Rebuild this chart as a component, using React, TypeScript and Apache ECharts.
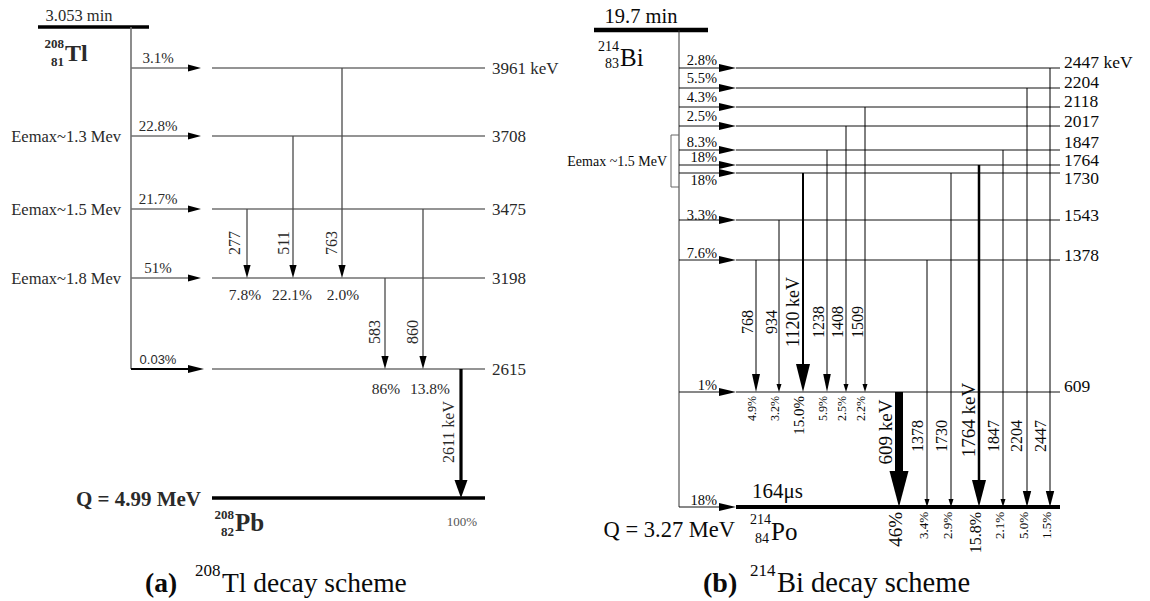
import React, { useEffect, useRef } from 'react';
import * as echarts from 'echarts';

// ===================== (a) 208Tl decay scheme — data =====================
const tlLevelKeV = [3961, 3708, 3475, 3198, 2615, 0];
const tlLevelLabel = ['3961 keV', '3708', '3475', '3198', '2615', ''];
const tlBetaTo = [3961, 3708, 3475, 3198, 2615];
const tlBetaIntensity = ['3.1%', '22.8%', '21.7%', '51%', '0.03%'];
const tlBetaEndpoint = ['', 'Eemax~1.3 Mev', 'Eemax~1.5 Mev', 'Eemax~1.8 Mev', ''];
const tlGammaLabel = ['277', '511', '763', '583', '860', '2611 keV'];
const tlGammaFrom = [3475, 3708, 3961, 3198, 3475, 2615];
const tlGammaTo = [3198, 3198, 3198, 2615, 2615, 0];
const tlGammaIntensity = ['7.8%', '22.1%', '2.0%', '86%', '13.8%', '100%'];
const tlHalfLife = '3.053 min';
const tlQ = 'Q = 4.99 MeV';

// ===================== (b) 214Bi decay scheme — data =====================
const biLevelKeV = [2447, 2204, 2118, 2017, 1847, 1764, 1730, 1543, 1378, 609, 0];
const biLevelLabel = ['2447 keV', '2204', '2118', '2017', '1847', '1764', '1730', '1543', '1378', '609', ''];
const biBetaIntensity = ['2.8%', '5.5%', '4.3%', '2.5%', '8.3%', '18%', '18%', '3.3%', '7.6%', '1%', '18%'];
const biGammaLabel = ['768', '934', '1120 keV', '1238', '1408', '1509', '609 keV', '1378', '1730', '1764 keV', '1847', '2204', '2447'];
const biGammaFrom = [1378, 1543, 1730, 1847, 2017, 2118, 609, 1378, 1730, 1764, 1847, 2204, 2447];
const biGammaTo = [609, 609, 609, 609, 609, 609, 0, 0, 0, 0, 0, 0, 0];
const biGammaIntensity = ['4.9%', '3.2%', '15.0%', '5.9%', '2.5%', '2.2%', '46%', '3.4%', '2.9%', '15.8%', '2.1%', '5.0%', '1.5%'];
const biHalfLife = '19.7 min';
const biQ = 'Q = 3.27 MeV';
const poHalfLife = '164μs';
const biEndpoint = 'Eemax ~1.5 MeV';

// ===================== layout (schematic rows / columns) =====================
const tlLevelRow = [68, 136, 209, 278, 369, 498];
const tlLevelSpan = [212, 485];
const tlParentX = 131;
const tlParentRow = 27;
const tlParentBar = [38, 149];
const tlBetaTipX = [201, 201, 201, 201, 204];
const tlGammaX = [247, 293, 342, 385, 423, 461];
const tlGammaLabelX = [234, 283, 331, 374, 412, 448];
const tlGammaLabelY = [243, 243, 243, 332, 332, 432];
const tlIntensityX = [245, 292, 343, 386, 430, 462];
const tlIntensityY = [294, 294, 294, 388, 388, 521];

const biLevelRow = [68, 88, 107, 126, 150, 165, 173, 220, 260, 392, 507];
const biLevelLabelY = [62, 82, 101, 121, 142, 160, 178, 215, 255, 386, 507];
const biLevelSpan = [736, 1060];
const biParentX = 679;
const biParentRow = 30;
const biParentBar = [594, 708];
const biBetaTipX = 736;
const biBetaLabelY = [60, 78, 97, 116, 142, 156.5, 180, 215, 253, 385, 500];
const biGammaX = [756, 779, 803, 827, 846, 865, 899, 927, 951, 979, 1003, 1027, 1050];
const biGammaLabelX = [747, 771, 793, 818, 837, 857, 885, 917, 941, 968, 993, 1016, 1040];
const biGammaLabelY = [322, 322, 312, 322, 322, 322, 432, 436, 436, 420, 436, 436, 436];

// ===================== styles =====================
const SERIF = "'Liberation Serif', 'Times New Roman', serif";
const SANS = "'Liberation Sans', Arial, sans-serif";
const TL_LINE = '#707070';
const TL_GAMMA = '#4a4a4a';
const TL_TEXT = '#2a2a2a';
const BI_LINE = '#111';
const BI_TEXT = '#0a0a0a';

const biGammaWidth = [1, 1, 2, 1, 1, 1, 8, 1, 1, 2.5, 1, 1, 1];
const biGammaHead = [18, 8, 28, 18, 8, 8, 36, 8, 8, 27, 8, 16, 16];
const biGammaHeadHalf = [4, 2.5, 7, 3.8, 2.5, 2.5, 9.5, 2.5, 2.5, 7, 2.5, 4.2, 4.2];
const biGammaLabelSize = [16, 16, 18, 16, 16, 16, 19, 16, 16, 19, 16, 16, 16];
const biIntensitySize = [12, 12, 15, 12, 12, 12, 19, 13, 13, 16, 13, 13, 13];

type TextOpt = { size: number; bold?: boolean; align?: string; va?: string; rot?: number; color?: string; family?: string };
const txt = (x: number, y: number, text: string, o: TextOpt) => ({
  type: 'text',
  x,
  y,
  rotation: o.rot || 0,
  style: {
    text,
    fill: o.color || BI_TEXT,
    fontSize: o.size,
    fontFamily: o.family || SERIF,
    fontWeight: o.bold ? 'bold' : 'normal',
    align: o.align || 'center',
    verticalAlign: o.va || 'middle',
  },
});
const seg = (a: number[], b: number[], stroke: string, lw: number) => ({
  type: 'line',
  shape: { x1: a[0], y1: a[1], x2: b[0], y2: b[1] },
  style: { stroke, lineWidth: lw },
});
const tri = (pts: number[][], fill: string) => ({ type: 'polygon', shape: { points: pts }, style: { fill, stroke: 'none' } });

const arrowDown = (p: number[], q: number[], lw: number, len: number, half: number, stroke: string, head: string) => [
  seg(p, [q[0], q[1] - len + 1], stroke, lw),
  tri([[q[0] - half, q[1] - len], [q[0] + half, q[1] - len], [q[0], q[1]]], head),
];
const arrowRight = (p: number[], q: number[], lw: number, len: number, half: number, stroke: string, head: string) => [
  seg(p, [q[0] - len + 1, q[1]], stroke, lw),
  tri([[q[0] - len, q[1] - half], [q[0] - len, q[1] + half], [q[0], q[1]]], head),
];

const rowOf = (levels: number[], rows: number[]) => (e: number) => rows[levels.indexOf(e)];
const tlRowOf = rowOf(tlLevelKeV, tlLevelRow);
const biRowOf = rowOf(biLevelKeV, biLevelRow);

function buildOption() {
  const base = { type: 'custom', coordinateSystem: 'cartesian2d', silent: true, animation: false, clip: false };

  const series: any[] = [
    // ---------- (a) parent state ----------
    {
      ...base,
      data: [[tlParentX, tlParentRow, tlRowOf(2615)]],
      renderItem: (_p: any, api: any) => {
        const top = api.coord([api.value(0), api.value(1)]);
        const bot = api.coord([api.value(0), api.value(2)]);
        return {
          type: 'group',
          children: [
            seg(api.coord([tlParentBar[0], api.value(1)]), api.coord([tlParentBar[1], api.value(1)]), '#000', 3.5),
            seg(top, bot, TL_LINE, 1.6),
          ],
        };
      },
    },
    // ---------- (a) levels ----------
    {
      ...base,
      data: tlLevelKeV.map((e) => [tlLevelSpan[0], tlRowOf(e), tlLevelSpan[1]]),
      renderItem: (p: any, api: any) => {
        const i = p.dataIndex;
        const a = api.coord([api.value(0), api.value(1)]);
        const b = api.coord([api.value(2), api.value(1)]);
        const ground = tlLevelKeV[i] === 0;
        const children: any[] = [seg(a, b, ground ? '#000' : TL_LINE, ground ? 3.5 : 1.6)];
        if (tlLevelLabel[i]) children.push(txt(b[0] + 7, b[1], tlLevelLabel[i], { size: 17, align: 'left', color: TL_TEXT }));
        return { type: 'group', children };
      },
    },
    // ---------- (a) beta feeds ----------
    {
      ...base,
      data: tlBetaTo.map((e, i) => [tlParentX, tlRowOf(e), tlBetaTipX[i]]),
      renderItem: (p: any, api: any) => {
        const i = p.dataIndex;
        const a = api.coord([api.value(0), api.value(1)]);
        const b = api.coord([api.value(2), api.value(1)]);
        const weak = i === tlBetaTo.length - 1;
        const children: any[] = arrowRight(a, b, weak ? 2.2 : 1.6, weak ? 16 : 13, weak ? 4 : 3.6, weak ? '#000' : TL_LINE, '#000');
        children.push(
          txt(158, a[1] - 10, tlBetaIntensity[i], {
            size: weak ? 13 : 15,
            family: weak ? SANS : SERIF,
            color: TL_TEXT,
          })
        );
        if (tlBetaEndpoint[i]) children.push(txt(a[0] - 10, a[1], tlBetaEndpoint[i], { size: 16.5, align: 'right', color: TL_TEXT }));
        return { type: 'group', children };
      },
    },
    // ---------- (a) gamma transitions ----------
    {
      ...base,
      data: tlGammaFrom.map((f, i) => [tlGammaX[i], tlRowOf(f), tlRowOf(tlGammaTo[i])]),
      renderItem: (p: any, api: any) => {
        const i = p.dataIndex;
        const a = api.coord([api.value(0), api.value(1)]);
        const b = api.coord([api.value(0), api.value(2)]);
        const strong = tlGammaTo[i] === 0;
        const children: any[] = arrowDown(a, b, strong ? 3.2 : 1.3, strong ? 18 : 13, strong ? 6.5 : 3.6, strong ? '#000' : TL_GAMMA, '#000');
        const lp = api.coord([tlGammaLabelX[i], tlGammaLabelY[i]]);
        children.push(txt(lp[0], lp[1], tlGammaLabel[i], { size: 16, rot: Math.PI / 2, color: TL_TEXT }));
        const ip = api.coord([tlIntensityX[i], tlIntensityY[i]]);
        children.push(txt(ip[0], ip[1], tlGammaIntensity[i], { size: strong ? 13 : 15.5, color: strong ? '#555' : TL_TEXT }));
        return { type: 'group', children };
      },
    },

    // ---------- (b) parent state ----------
    {
      ...base,
      data: [[biParentX, biParentRow, biRowOf(0)]],
      renderItem: (_p: any, api: any) => {
        const top = api.coord([api.value(0), api.value(1)]);
        const bot = api.coord([api.value(0), api.value(2)]);
        return {
          type: 'group',
          children: [
            seg(api.coord([biParentBar[0], api.value(1)]), api.coord([biParentBar[1], api.value(1)]), '#000', 4.5),
            seg(top, bot, '#333', 1),
          ],
        };
      },
    },
    // ---------- (b) levels ----------
    {
      ...base,
      data: biLevelKeV.map((e) => [biLevelSpan[0], biRowOf(e), biLevelSpan[1]]),
      renderItem: (p: any, api: any) => {
        const i = p.dataIndex;
        const a = api.coord([api.value(0), api.value(1)]);
        const b = api.coord([api.value(2), api.value(1)]);
        const ground = biLevelKeV[i] === 0;
        const children: any[] = [seg(a, b, ground ? '#000' : BI_LINE, ground ? 4 : 1)];
        if (biLevelLabel[i]) {
          const lp = api.coord([biLevelSpan[1], biLevelLabelY[i]]);
          children.push(txt(lp[0] + 4, lp[1], biLevelLabel[i], { size: 17.5, align: 'left' }));
        }
        return { type: 'group', children };
      },
    },
    // ---------- (b) beta feeds ----------
    {
      ...base,
      data: biLevelKeV.map((e) => [biParentX, biRowOf(e), biBetaTipX]),
      renderItem: (p: any, api: any) => {
        const i = p.dataIndex;
        const a = api.coord([api.value(0), api.value(1)]);
        const b = api.coord([api.value(2), api.value(1)]);
        const children: any[] = arrowRight(a, b, 1, 17, 4, BI_LINE, '#000');
        const lp = api.coord([717, biBetaLabelY[i]]);
        children.push(txt(lp[0], lp[1], biBetaIntensity[i], { size: 14.5, align: 'right' }));
        return { type: 'group', children };
      },
    },
    // ---------- (b) endpoint bracket ----------
    {
      ...base,
      data: [[biParentX, biRowOf(1847) - 15, biRowOf(1730) + 14]],
      renderItem: (_p: any, api: any) => {
        const t = api.coord([api.value(0), api.value(1)]);
        const b = api.coord([api.value(0), api.value(2)]);
        const w = 8;
        return {
          type: 'group',
          children: [
            {
              type: 'polyline',
              shape: { points: [[t[0], t[1]], [t[0] - w, t[1]], [b[0] - w, b[1]], [b[0], b[1]]] },
              style: { stroke: '#666', lineWidth: 1, fill: 'none' },
            },
            txt(t[0] - w - 4, (t[1] + b[1]) / 2, biEndpoint, { size: 14, align: 'right' }),
          ],
        };
      },
    },
    // ---------- (b) gamma transitions ----------
    {
      ...base,
      data: biGammaFrom.map((f, i) => [biGammaX[i], biRowOf(f), biRowOf(biGammaTo[i])]),
      renderItem: (p: any, api: any) => {
        const i = p.dataIndex;
        const a = api.coord([api.value(0), api.value(1)]);
        const b = api.coord([api.value(0), api.value(2)]);
        const children: any[] = arrowDown(a, b, biGammaWidth[i], biGammaHead[i], biGammaHeadHalf[i], '#000', '#000');
        const lp = api.coord([biGammaLabelX[i], biGammaLabelY[i]]);
        children.push(txt(lp[0], lp[1], biGammaLabel[i], { size: biGammaLabelSize[i], rot: Math.PI / 2 }));
        children.push(
          txt(b[0] - 4, b[1] + (biGammaTo[i] === 0 ? 5 : 4), biGammaIntensity[i], {
            size: biIntensitySize[i],
            rot: Math.PI / 2,
            align: 'right',
          })
        );
        return { type: 'group', children };
      },
    },
  ];

  const graphic = [
    // (a) annotations
    txt(79, 15, tlHalfLife, { size: 16.5, color: TL_TEXT }),
    txt(64, 43, '208', { size: 13, bold: true, align: 'right', color: TL_TEXT }),
    txt(64, 61, '81', { size: 13, bold: true, align: 'right', color: TL_TEXT }),
    txt(65, 53, 'Tl', { size: 24, bold: true, align: 'left', color: TL_TEXT }),
    txt(201, 499, tlQ, { size: 21, bold: true, align: 'right', color: TL_TEXT }),
    txt(234, 514, '208', { size: 13, bold: true, align: 'right', color: TL_TEXT }),
    txt(234, 531, '82', { size: 13, bold: true, align: 'right', color: TL_TEXT }),
    txt(235, 522, 'Pb', { size: 25, bold: true, align: 'left', color: TL_TEXT }),
    // (b) annotations
    txt(641, 16, biHalfLife, { size: 20.5 }),
    txt(619, 46, '214', { size: 14, align: 'right' }),
    txt(619, 63, '83', { size: 14, align: 'right' }),
    txt(620, 57, 'Bi', { size: 25, align: 'left' }),
    txt(735, 529, biQ, { size: 22.5, align: 'right' }),
    txt(771, 519, '214', { size: 14, align: 'right' }),
    txt(769, 538, '84', { size: 14, align: 'right' }),
    txt(771, 531, 'Po', { size: 25, align: 'left' }),
    txt(752, 491, poHalfLife, { size: 21, align: 'left' }),
    // captions
    txt(145, 582, '(a)', { size: 27.5, bold: true, align: 'left' }),
    txt(195, 570, '208', { size: 17, align: 'left' }),
    txt(222, 582, 'Tl decay scheme', { size: 27.5, align: 'left' }),
    txt(703, 582, '(b)', { size: 28, bold: true, align: 'left' }),
    txt(750, 570, '214', { size: 17, align: 'left' }),
    txt(777, 582, 'Bi decay scheme', { size: 28.5, align: 'left' }),
  ];

  return {
    animation: false,
    backgroundColor: '#ffffff',
    grid: { left: 0, right: 0, top: 0, bottom: 0 },
    xAxis: { type: 'value', min: 0, max: 1150, show: false },
    yAxis: { type: 'value', min: 0, max: 601, inverse: true, show: false },
    graphic: { elements: graphic },
    series,
  };
}

export default function App() {
  const ref = useRef<HTMLDivElement>(null);
  useEffect(() => {
    if (!ref.current) return;
    const chart = echarts.init(ref.current, null, { renderer: 'svg' });
    chart.setOption(buildOption() as any);
    return () => chart.dispose();
  }, []);
  return (
    <div
      ref={ref}
      style={{ position: 'fixed', left: 0, top: 0, width: 1150, height: 601, background: '#fff' }}
    />
  );
}
